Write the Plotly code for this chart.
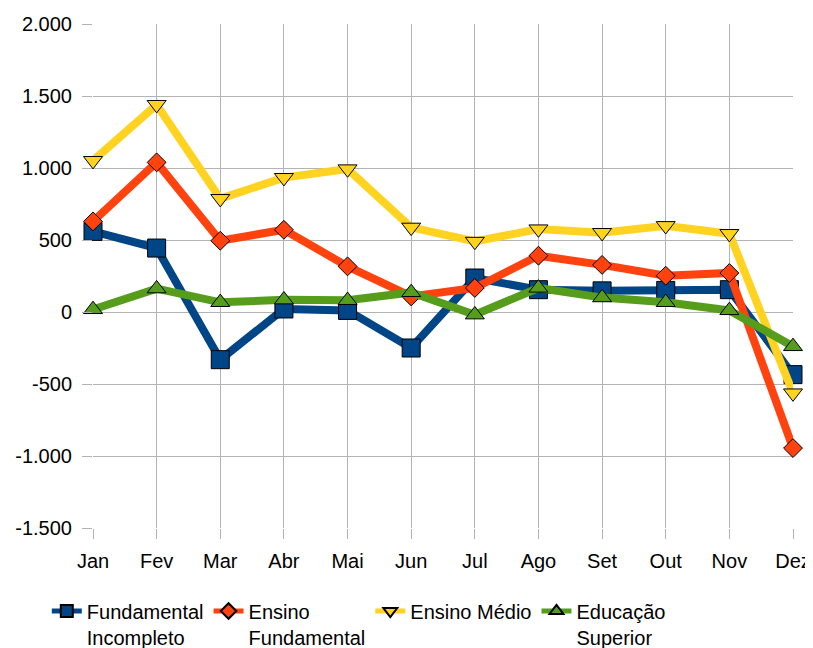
import plotly.graph_objects as go

months = ["Jan", "Fev", "Mar", "Abr", "Mai", "Jun", "Jul", "Ago", "Set", "Out", "Nov", "Dez"]

fundamental_incompleto = [560, 444, -331, 21, 11, -250, 236, 155, 147, 150, 155, -435]
ensino_fundamental = [629, 1039, 495, 571, 317, 108, 167, 391, 327, 252, 271, -945]
ensino_medio = [1051, 1440, 787, 933, 993, 588, 490, 576, 551, 599, 544, -563]
educacao_superior = [18, 162, 67, 85, 81, 136, -19, 167, 100, 67, 11, -239]

series_names = ["Fundamental<br>Incompleto", "Ensino<br>Fundamental", "Ensino Médio", "Educação<br>Superior"]
series_colors = ["#004586", "#ff420e", "#ffd320", "#579d1c"]
series_symbols = ["square", "diamond", "triangle-down", "triangle-up"]
series_sizes = [18, 14.5, 16.5, 16.5]

y_tick_vals = [-1500, -1000, -500, 0, 500, 1000, 1500, 2000]
y_tick_labels = ["-1.500", "-1.000", "-500", "0", "500", "1.000", "1.500", "2.000"]

fig = go.Figure()
for name, vals, col, sym, sz in zip(series_names,
                                    [fundamental_incompleto, ensino_fundamental, ensino_medio, educacao_superior],
                                    series_colors, series_symbols, series_sizes):
    fig.add_trace(go.Scatter(
        x=months, y=vals, name=name, mode="lines+markers",
        line=dict(color=col, width=8),
        marker=dict(symbol=sym, size=sz, color=col, line=dict(color="black", width=1)),
        cliponaxis=False,
    ))

grid = "#b3b3b3"
# page body has an 8px margin, so the figure is 8px smaller on each side
fig.update_layout(
    width=805, height=640,
    margin=dict(l=85, r=20, t=16, b=120, autoexpand=False),
    paper_bgcolor="white", plot_bgcolor="white",
    font=dict(family="Liberation Sans", size=20, color="black"),
    showlegend=True,
    legend=dict(orientation="h", x=-0.066, xanchor="left", y=-0.126, yanchor="top",
                valign="top", font=dict(size=20), itemwidth=30, tracegroupgap=0,
                itemsizing="constant"),
    xaxis=dict(
        type="category", range=[0, 11], showgrid=True, gridcolor=grid, gridwidth=1,
        showline=False, zeroline=False, automargin=False,
        ticks="outside", ticklen=10, tickcolor=grid, tickwidth=1,
        tickfont=dict(size=20), ticklabelstandoff=5,
    ),
    yaxis=dict(
        range=[-1500, 2000], tickvals=y_tick_vals, ticktext=y_tick_labels,
        showgrid=True, gridcolor=grid, gridwidth=1, zeroline=False, automargin=False,
        showline=False, ticks="outside", ticklen=10, tickcolor=grid, tickwidth=1,
        tickfont=dict(size=20), ticklabelstandoff=6,
    ),
)

fig.write_html("out.html")
